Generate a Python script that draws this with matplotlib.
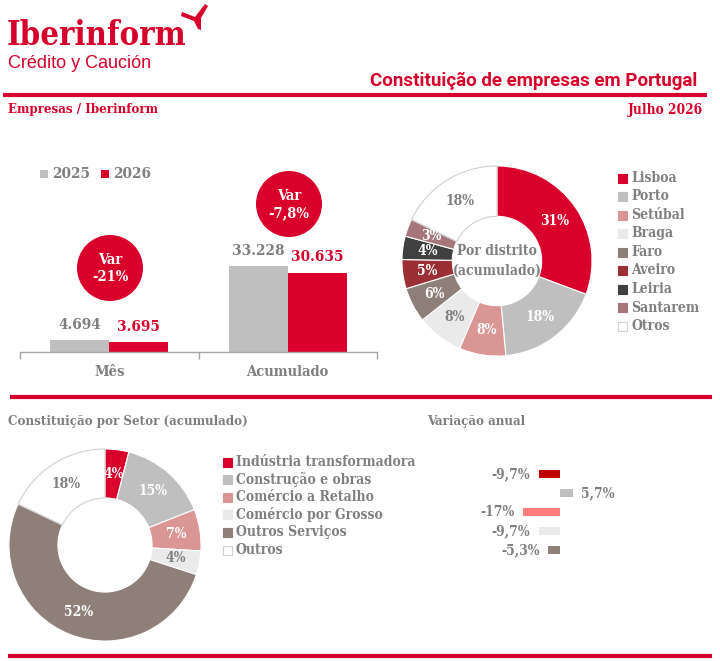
import matplotlib
matplotlib.use('Agg')
import matplotlib.pyplot as plt
from matplotlib.patches import Circle, Rectangle, Polygon
import numpy as np

# ---------------- data ----------------
bar_categories = ['Mês', 'Acumulado']
bar_years = ['2025', '2026']
values_2025 = [4694, 33228]
values_2026 = [3695, 30635]
bar_var_labels = ['-21%', '-7,8%']

district_names = ['Lisboa', 'Porto', 'Setúbal', 'Braga', 'Faro', 'Aveiro',
                  'Leiria', 'Santarem', 'Otros']
district_pct = [31, 18, 8, 8, 6, 5, 4, 3, 18]

sector_names = ['Indústria transformadora', 'Construção e obras',
                'Comércio a Retalho', 'Comércio por Grosso',
                'Outros Serviços', 'Outros']
sector_pct = [4, 15, 7, 4, 52, 18]

sector_var = [-9.7, 5.7, -17, -9.7, -5.3]
sector_var_labels = ['-9,7%', '5,7%', '-17%', '-9,7%', '-5,3%']

# ---------------- style ----------------
RED = '#D7002A'
GRAY = '#7F7F7F'
SERIF = ['DejaVu Serif']
STRETCH = 'condensed'
W, H = 720, 661

district_colors = ['#D9002B', '#BFBFBF', '#DA9694', '#EAEAEA', '#8E7F78',
                   '#9C2F36', '#404040', '#A5777A', '#FFFFFF']
district_lbl = ['white', 'white', 'white', GRAY, 'white', 'white', 'white',
                'white', GRAY]
sector_colors = ['#D9002B', '#BFBFBF', '#DA9694', '#EAEAEA', '#8E7F78', '#FFFFFF']
sector_lbl = ['white', 'white', 'white', GRAY, 'white', GRAY]
var_colors = ['#C00000', '#BFBFBF', '#FF7C80', '#EAEAEA', '#8E7F78']

plt.rcParams['font.family'] = SERIF

fig = plt.figure(figsize=(W / 100, H / 100), dpi=100)
fig.patch.set_facecolor('white')


def box(x0, y0, x1, y1):
    """pixel box (top-left origin) -> figure rect"""
    return [x0 / W, 1 - y1 / H, (x1 - x0) / W, (y1 - y0) / H]


def stxt(ax, x, y, s, size, color=GRAY, weight='bold', **kw):
    ax.text(x, y, s, fontsize=size, color=color, fontweight=weight,
            family=SERIF, fontstretch=STRETCH, **kw)


# ---------------- bar chart ----------------
axb = fig.add_axes(box(20, 152, 377, 352))
x = np.arange(len(bar_categories))
bw = 0.33
b1 = axb.bar(x - bw / 2, values_2025, bw, color='#BFBFBF')
b2 = axb.bar(x + bw / 2, values_2026, bw, color='#D9002B')
axb.set_xlim(-0.5, 1.5)
axb.set_ylim(0, 77300)
for s in ['top', 'right', 'left']:
    axb.spines[s].set_visible(False)
axb.spines['bottom'].set_color('#A6A6A6')
axb.spines['bottom'].set_linewidth(1.0)
axb.set_yticks([])
axb.set_xticks(x)
axb.set_xticklabels(bar_categories, fontsize=10.5, color=GRAY,
                    fontweight='bold', fontstretch=STRETCH)
axb.tick_params(axis='x', which='major', length=0, pad=9)
axb.set_xticks([-0.5, 0.5, 1.5], minor=True)
axb.tick_params(axis='x', which='minor', length=5, color='#A6A6A6', width=1)


def fmt(v):
    return f'{v:,}'.replace(',', '.')


for bars, col in [(b1, GRAY), (b2, RED)]:
    for r in bars:
        axb.annotate(fmt(int(r.get_height())),
                     (r.get_x() + r.get_width() / 2, r.get_height()),
                     xytext=(0, 6), textcoords='offset points',
                     ha='center', va='bottom', fontsize=11, color=col,
                     fontweight='bold', fontstretch=STRETCH)

# ---------------- donut: district ----------------
cx, cy, R = 497, 261, 96
axd = fig.add_axes(box(cx - R, cy - R, cx + R, cy + R))
wd, _ = axd.pie(district_pct, colors=district_colors, startangle=90,
                counterclock=False,
                wedgeprops=dict(width=0.53, edgecolor='white', linewidth=0.8))
wd[-1].set_edgecolor('#D0D0D0')
wd[-1].set_linewidth(0.8)
axd.set_xlim(-1.01, 1.01)
axd.set_ylim(-1.01, 1.01)
for w_, p, c in zip(wd, district_pct, district_lbl):
    ang = np.deg2rad((w_.theta1 + w_.theta2) / 2)
    axd.text(0.74 * np.cos(ang), 0.74 * np.sin(ang), f'{p}%', ha='center',
             va='center', fontsize=10, color=c, fontweight='bold',
             fontstretch=STRETCH)
axd.text(0, 0, 'Por distrito\n(acumulado)', ha='center', va='center',
         fontsize=10, color=GRAY, fontweight='bold', fontstretch=STRETCH,
         linespacing=1.5)

# ---------------- donut: sector ----------------
cx2, cy2, R2 = 105, 545, 97
axs = fig.add_axes(box(cx2 - R2, cy2 - R2, cx2 + R2, cy2 + R2))
ws, _ = axs.pie(sector_pct, colors=sector_colors, startangle=90,
                counterclock=False,
                wedgeprops=dict(width=0.51, edgecolor='white', linewidth=0.8))
ws[-1].set_edgecolor('#D0D0D0')
ws[-1].set_linewidth(0.8)
axs.set_xlim(-1.01, 1.01)
axs.set_ylim(-1.01, 1.01)
for w_, p, c in zip(ws, sector_pct, sector_lbl):
    ang = np.deg2rad((w_.theta1 + w_.theta2) / 2)
    axs.text(0.75 * np.cos(ang), 0.75 * np.sin(ang), f'{p}%', ha='center',
             va='center', fontsize=10, color=c, fontweight='bold',
             fontstretch=STRETCH)

# ---------------- variation bars ----------------
axv = fig.add_axes(box(460, 464.5, 660, 559.5))
yy = np.arange(len(sector_var))
axv.barh(yy, sector_var, height=0.47, color=var_colors)
axv.set_xlim(-45.45, 45.45)
axv.set_ylim(len(sector_var) - 0.5, -0.5)
axv.axis('off')
for yi, v, lab in zip(yy, sector_var, sector_var_labels):
    axv.annotate(lab, (v, yi), xytext=(-6 if v < 0 else 6, 0),
                 textcoords='offset points',
                 ha='right' if v < 0 else 'left', va='center', fontsize=10,
                 color=GRAY, fontweight='bold', fontstretch=STRETCH)

# ---------------- overlay (pixel coords) ----------------
ov = fig.add_axes([0, 0, 1, 1])
ov.set_xlim(0, W)
ov.set_ylim(H, 0)
ov.axis('off')
ov.patch.set_alpha(0)

# header
stxt(ov, 7, 45, 'Iberinform', 23.5, color=RED, va='baseline')
ov.add_patch(Polygon([(182, 12), (195, 17), (205, 4), (208, 6), (201, 18),
                      (201, 30), (198, 29), (194, 21), (181, 16)],
                     closed=True, color=RED, lw=0))
ov.text(8, 68, 'Crédito y Caución', fontsize=13, color=RED,
        family=['Liberation Sans Narrow', 'Liberation Sans'], va='baseline')
ov.text(697, 86, 'Constituição de empresas em Portugal', fontsize=13.5,
        color=RED, fontweight='bold', family=['Roboto'], ha='right',
        va='baseline')
ov.plot([3, 707], [95, 95], color=RED, lw=3, solid_capstyle='butt')
stxt(ov, 8, 110, 'Empresas / Iberinform', 9.5, color=RED, va='center')
stxt(ov, 703, 110, 'Julho 2026', 9.8, color=RED, va='center', ha='right')

# bar legend
for (sx, tx), col, yr in zip([(40, 52), (101, 113)], ['#BFBFBF', '#D9002B'],
                             bar_years):
    ov.add_patch(Rectangle((sx, 169.5), 8, 8, color=col, lw=0))
    stxt(ov, tx, 174, yr, 11, va='center')

# var circles
for (ccx, ccy), lab in zip([(110, 268), (289, 204)], bar_var_labels):
    ov.add_patch(Circle((ccx, ccy), 33, color='#D9002B', lw=0))
    stxt(ov, ccx, ccy - 8, 'Var', 10.5, color='white', ha='center', va='center')
    stxt(ov, ccx, ccy + 9, lab, 10.5, color='white', ha='center', va='center')

# district legend
for i, (nm, col) in enumerate(zip(district_names, district_colors)):
    yl = 178 + i * 18.5
    ov.add_patch(Rectangle((618, yl - 4.5), 9, 9, facecolor=col,
                           edgecolor='#D0D0D0' if col == '#FFFFFF' else col,
                           lw=0.8))
    stxt(ov, 631, yl, nm, 10, va='center')

# separator line
ov.plot([10, 712], [396.5, 396.5], color=RED, lw=3, solid_capstyle='butt')

# section titles
stxt(ov, 8, 422, 'Constituição por Setor (acumulado)', 9.5, va='center')
stxt(ov, 427, 421, 'Variação anual', 9.5, va='center')

# sector legend
for i, (nm, col) in enumerate(zip(sector_names, sector_colors)):
    yl = 462 + i * 17.6
    ov.add_patch(Rectangle((223, yl - 4.5), 9, 9, facecolor=col,
                           edgecolor='#D0D0D0' if col == '#FFFFFF' else col,
                           lw=0.8))
    stxt(ov, 236, yl, nm, 10, va='center')

# bottom line
ov.plot([8, 712], [655.5, 655.5], color=RED, lw=3, solid_capstyle='butt')

fig.savefig('out.png', dpi=100, facecolor='white')
